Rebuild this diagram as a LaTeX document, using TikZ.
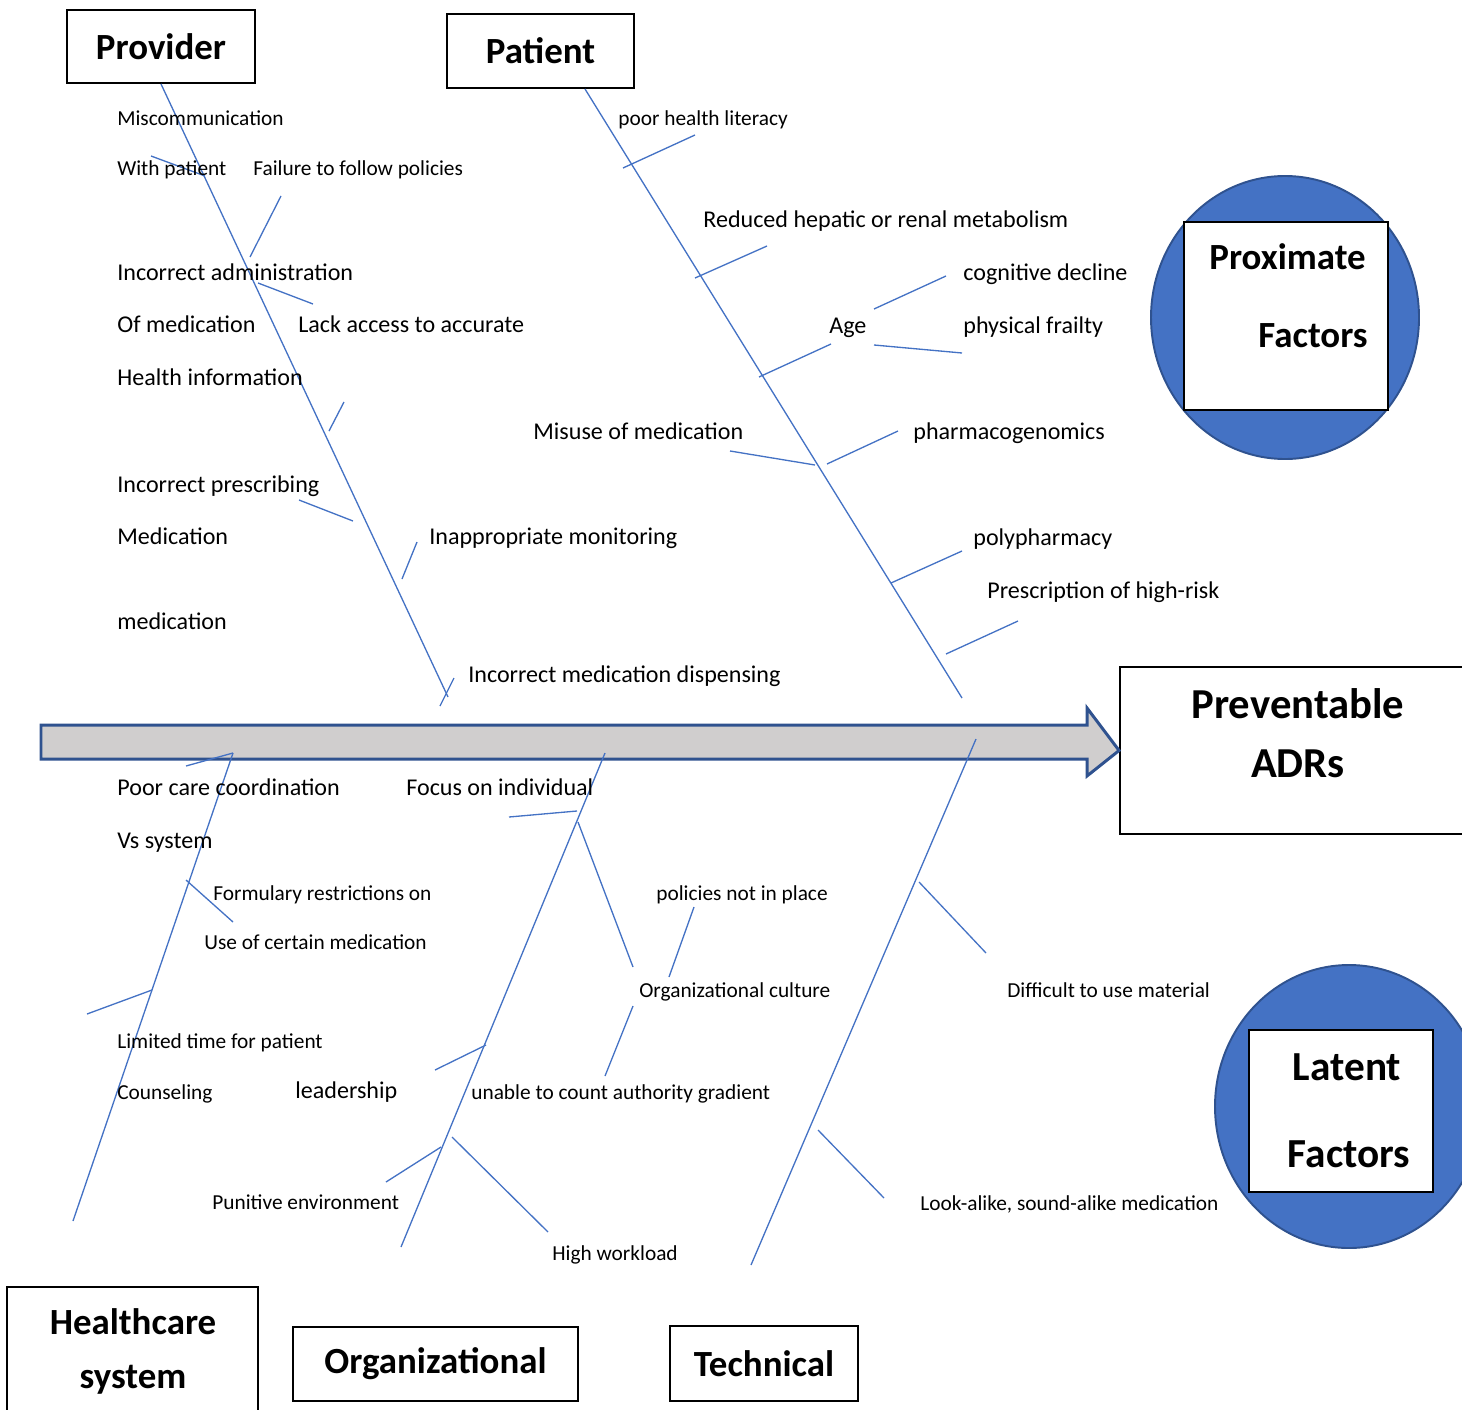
\documentclass[tikz,border=0pt]{standalone}
\usepackage{fontspec}
\setmainfont{Carlito}
\usetikzlibrary{positioning}
\definecolor{boneblue}{HTML}{4472C4}
\definecolor{factblue}{HTML}{4472C4}
\definecolor{factedge}{HTML}{2F528F}
\definecolor{shaftgray}{HTML}{D0CECE}

\begin{document}
\begin{tikzpicture}[
  x=0.02cm, y=-0.02cm,
  bone/.style={draw=boneblue, line width=0.75pt},
  catbox/.style={draw, line width=1.1pt, rectangle, fill=white, inner sep=0pt, font=\bfseries\fontsize{21}{25}\selectfont},
  bigtitle/.style={inner sep=0pt, yshift=-0.17cm, font=\bfseries\fontsize{#1}{28}\selectfont},
  lbl/.style={anchor=mid west, inner sep=0pt, yshift=-0.06cm, font=\fontsize{13.7}{16}\selectfont},
  slbl/.style={anchor=mid west, inner sep=0pt, yshift=-0.06cm, font=\fontsize{12.15}{14}\selectfont}]

\clip (0,0) rectangle (1462,1409);

% Factor circles
\draw[fill=factblue, draw=factedge, line width=1.1pt] (1285,317.5) ellipse [x radius=134, y radius=141.5];
\draw[fill=factblue, draw=factedge, line width=1.1pt] (1349,1106.5) ellipse [x radius=134, y radius=141.5];

\node[catbox, minimum width=4.08cm, minimum height=3.76cm] (proxbox) at (1286,316) {};
\node[bigtitle=21, anchor=mid east] (prox1) at (1366,257) {Proximate};
\node[bigtitle=21, anchor=mid east] (prox2) at (1368,335) {Factors};

\node[catbox, minimum width=3.68cm, minimum height=3.24cm] (latbox) at (1341,1111) {};
\node[bigtitle=23.5, anchor=mid] (lat1) at (1347,1068) {Latent};
\node[bigtitle=23.5, anchor=mid] (lat2) at (1349,1155) {Factors};

% Category boxes
\node[catbox, minimum width=3.76cm, minimum height=1.46cm] (provider) at (161,46.5) {Provider};
\node[catbox, minimum width=3.74cm, minimum height=1.48cm] (patient) at (540.5,51) {Patient};
\node[catbox, minimum width=5.02cm, minimum height=2.48cm] (health) at (132.5,1349) {};
\node[bigtitle=21, anchor=mid] (health1) at (133,1322) {Healthcare};
\node[bigtitle=21, anchor=mid] (health2) at (133,1376) {system};
\node[catbox, minimum width=5.70cm, minimum height=1.48cm] (organ) at (435.5,1364) {Organizational};
\node[catbox, minimum width=3.76cm, minimum height=1.50cm] (techn) at (764,1363.5) {Technical};

% Effect box
\node[catbox, minimum width=7.12cm, minimum height=3.34cm] (adr) at (1298,750.5) {};
\node[bigtitle=24.3, anchor=mid] (adr1) at (1298,706) {Preventable};
\node[bigtitle=24.3, anchor=mid] (adr2) at (1298,765) {ADRs};

% Main arrow
\draw[draw=factedge, fill=shaftgray, line width=1.7pt, line join=miter]
  (41,725) -- (1087,725) -- (1087,708) -- (adr.west) -- (1087,776) -- (1087,759) -- (41,759) -- cycle;

%Provider bone
\coordinate (provend) at (448,697);
\draw[bone] (provider.south) -- (provend);
\coordinate (pv1a) at (151,156); \coordinate (pv1b) at (205,176);
\draw[bone] (pv1a) -- (pv1b);
\coordinate (pv2a) at (250,257); \coordinate (pv2b) at (281,196);
\draw[bone] (pv2a) -- (pv2b);
\coordinate (pv3a) at (258,283); \coordinate (pv3b) at (313,304);
\draw[bone] (pv3a) -- (pv3b);
\coordinate (pv4a) at (344,402); \coordinate (pv4b) at (329,431);
\draw[bone] (pv4a) -- (pv4b);
\coordinate (pv5a) at (299,500); \coordinate (pv5b) at (353,521);
\draw[bone] (pv5a) -- (pv5b);
\coordinate (pv6a) at (417,542); \coordinate (pv6b) at (402,579);
\draw[bone] (pv6a) -- (pv6b);
\coordinate (pv7a) at (440,706); \coordinate (pv7b) at (454,678);
\draw[bone] (pv7a) -- (pv7b);

\node[slbl] (miscom) at (117,118) {Miscommunication};
\node[slbl] (withpat) at (117,168) {With patient};
\node[slbl] (failure) at (253,168) {Failure to follow policies};
\node[lbl] (incadm) at (117,273) {Incorrect administration};
\node[lbl] (ofmed) at (117,325) {Of medication};
\node[lbl] (lack) at (298,325) {Lack access to accurate};
\node[lbl] (healthinfo) at (117,378) {Health information};
\node[lbl] (incpres) at (117,485) {Incorrect prescribing};
\node[lbl] (medic1) at (117,537) {Medication};
\node[lbl] (inapp) at (429,537) {Inappropriate monitoring};
\node[lbl] (medic2) at (117,622) {medication};
\node[lbl] (dispens) at (468,675) {Incorrect medication dispensing};

%Patient bone
\coordinate (patstart) at (585,89); \coordinate (patend) at (962,698);
\draw[bone] (patstart) -- (patend);
\coordinate (pt1a) at (623,168); \coordinate (pt1b) at (695,135);
\draw[bone] (pt1a) -- (pt1b);
\coordinate (pt2a) at (695,278); \coordinate (pt2b) at (767,246);
\draw[bone] (pt2a) -- (pt2b);
\coordinate (pt3a) at (759,377); \coordinate (pt3b) at (831,344);
\draw[bone] (pt3a) -- (pt3b);
\coordinate (pt4a) at (874,309); \coordinate (pt4b) at (946,276);
\draw[bone] (pt4a) -- (pt4b);
\coordinate (pt5a) at (874,345); \coordinate (pt5b) at (962,353);
\draw[bone] (pt5a) -- (pt5b);
\coordinate (pt6a) at (730,451); \coordinate (pt6b) at (815,465);
\draw[bone] (pt6a) -- (pt6b);
\coordinate (pt7a) at (827,464); \coordinate (pt7b) at (898,431);
\draw[bone] (pt7a) -- (pt7b);
\coordinate (pt8a) at (891,583); \coordinate (pt8b) at (962,551);
\draw[bone] (pt8a) -- (pt8b);
\coordinate (pt9a) at (946,654); \coordinate (pt9b) at (1018,621);
\draw[bone] (pt9a) -- (pt9b);

\node[slbl] (literacy) at (618,118) {poor health literacy};
\node[lbl] (hepatic) at (703,220) {Reduced hepatic or renal metabolism};
\node[lbl] (cognit) at (963,273) {cognitive decline};
\node[lbl] (age) at (829,326) {Age};
\node[lbl] (frailty) at (963,326) {physical frailty};
\node[lbl] (misuse) at (533,432) {Misuse of medication};
\node[lbl] (pharmaco) at (913,432) {pharmacogenomics};
\node[lbl] (polyph) at (973,538) {polypharmacy};
\node[lbl] (highrisk) at (987,591) {Prescription of high-risk};

%Healthcare system bone
\coordinate (hsstart) at (233,753); \coordinate (hsend) at (73,1221);
\draw[bone] (hsstart) -- (hsend);
\coordinate (hs1a) at (186,766); \coordinate (hs1b) at (233,753);
\draw[bone] (hs1a) -- (hs1b);
\coordinate (hs2a) at (186,880); \coordinate (hs2b) at (233,922);
\draw[bone] (hs2a) -- (hs2b);
\coordinate (hs3a) at (87,1014); \coordinate (hs3b) at (152,990);
\draw[bone] (hs3a) -- (hs3b);

\node[lbl] (poorcare) at (117,788) {Poor care coordination};
\node[lbl] (vssys) at (117,841) {Vs system};
\node[slbl] (formul) at (213,893) {Formulary restrictions on};
\node[slbl] (usecert) at (204,942) {Use of certain medication};
\node[slbl] (limited) at (117,1041) {Limited time for patient};
\node[slbl] (counsel) at (117,1092) {Counseling};

%Organizational bone
\coordinate (orstart) at (605,753); \coordinate (orend) at (401,1247);
\draw[bone] (orstart) -- (orend);
\coordinate (or1a) at (509,817); \coordinate (or1b) at (577,811);
\draw[bone] (or1a) -- (or1b);
\coordinate (or2a) at (578,822); \coordinate (or2b) at (633,967);
\draw[bone] (or2a) -- (or2b);
\coordinate (or3a) at (669,977); \coordinate (or3b) at (694,907);
\draw[bone] (or3a) -- (or3b);
\coordinate (or4a) at (633,1006); \coordinate (or4b) at (605,1076);
\draw[bone] (or4a) -- (or4b);
\coordinate (or5a) at (435,1070); \coordinate (or5b) at (486,1045);
\draw[bone] (or5a) -- (or5b);
\coordinate (or6a) at (386,1182); \coordinate (or6b) at (441,1147);
\draw[bone] (or6a) -- (or6b);
\coordinate (or7a) at (452,1137); \coordinate (or7b) at (548,1232);
\draw[bone] (or7a) -- (or7b);

\node[lbl] (focus) at (406,788) {Focus on individual};
\node[slbl] (nopolicy) at (656,893) {policies not in place};
\node[slbl] (culture) at (639,990) {Organizational culture};
\node[lbl] (leader) at (295,1091) {leadership};
\node[slbl] (gradient) at (471,1092) {unable to count authority gradient};
\node[slbl] (punitive) at (212,1202) {Punitive environment};
\node[slbl] (workload) at (552,1253) {High workload};

%Technical bone
\coordinate (tcstart) at (976,739); \coordinate (tcend) at (751,1265);
\draw[bone] (tcstart) -- (tcend);
\coordinate (tc1a) at (919,882); \coordinate (tc1b) at (986,953);
\draw[bone] (tc1a) -- (tc1b);
\coordinate (tc2a) at (818,1130); \coordinate (tc2b) at (884,1198);
\draw[bone] (tc2a) -- (tc2b);

\node[slbl] (difficult) at (1007,990) {Difficult to use material};
\node[slbl] (lookalike) at (920,1203) {Look-alike, sound-alike medication};

\end{tikzpicture}
\end{document}
